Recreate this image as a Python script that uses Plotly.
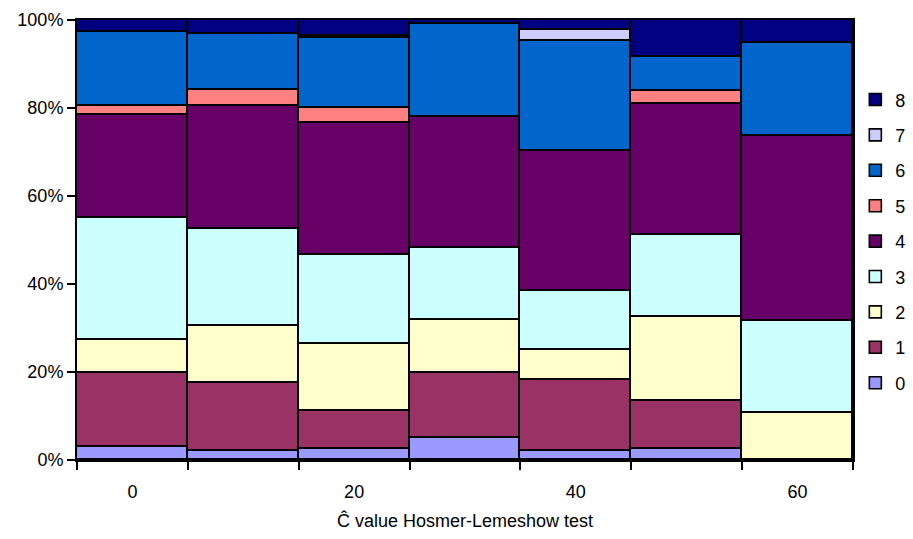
import plotly.graph_objects as go

# Ĉ value groups (bar centres) and share of each category per group, in %
c_values = [0, 10, 20, 30, 40, 50, 60]
categories = ["0", "1", "2", "3", "4", "5", "6", "7", "8"]

share_0 = [3.0, 2.1, 2.5, 5.1, 2.1, 2.5, 0.0]
share_1 = [16.8, 15.3, 8.6, 14.7, 16.1, 11.0, 0.0]
share_2 = [7.4, 13.1, 15.2, 12.0, 6.8, 19.1, 10.6]
share_3 = [27.9, 22.0, 20.3, 16.4, 13.5, 18.6, 21.1]
share_4 = [23.2, 28.0, 30.1, 29.7, 31.8, 29.6, 42.0]
share_5 = [2.1, 3.7, 3.3, 0.0, 0.0, 3.1, 0.0]
share_6 = [16.9, 12.6, 16.0, 21.1, 24.9, 7.8, 21.1]
share_7 = [0.0, 0.0, 0.4, 0.0, 2.5, 0.0, 0.0]
share_8 = [2.7, 3.2, 3.6, 1.0, 2.3, 8.3, 5.2]

shares = [share_0, share_1, share_2, share_3, share_4,
          share_5, share_6, share_7, share_8]
colors = ["#9999FF", "#993366", "#FFFFCC", "#CCFFFF", "#660066",
          "#FF8080", "#0066CC", "#CCCCFF", "#000080"]

x_ticks = [0, 20, 40, 60]
y_ticks = [0, 20, 40, 60, 80, 100]

font_family = "Liberation Sans, Arial, sans-serif"

fig = go.Figure()
n = len(categories)
for i, (name, vals, col) in enumerate(zip(categories, shares, colors)):
    fig.add_trace(go.Bar(
        x=c_values, y=vals, name=name, legendgroup=name,
        legendrank=n - i,  # highest category listed first
        marker=dict(color=col, line=dict(color="black", width=1.6)),
        width=10,
    ))

fig.update_layout(
    barmode="stack",
    bargap=0,
    width=913, height=539,
    margin=dict(l=77, r=60, t=20, b=79, autoexpand=False),
    plot_bgcolor="white",
    paper_bgcolor="white",
    font=dict(family=font_family, size=18, color="black"),
    showlegend=True,
    legend=dict(
        traceorder="grouped",
        x=1.003, xanchor="left",
        y=0.497, yanchor="middle",
        font=dict(size=18),
        tracegroupgap=9,
        bgcolor="rgba(0,0,0,0)",
    ),
)

fig.update_xaxes(
    range=[-5, 65],
    tickvals=x_ticks,
    ticktext=[str(v) for v in x_ticks],
    ticks="",
    ticklabelstandoff=14,
    minor=dict(tick0=-5, dtick=10, ticks="outside", ticklen=8,
               tickwidth=1.5, tickcolor="black"),
    showgrid=False,
    showline=True, linecolor="black", linewidth=2, mirror=True,
    title=dict(text="Ĉ value Hosmer-Lemeshow test", standoff=14,
               font=dict(size=18)),
    tickfont=dict(size=18),
    zeroline=False,
)

fig.update_yaxes(
    range=[0, 100],
    tickvals=y_ticks,
    ticktext=[f"{v}%" for v in y_ticks],
    ticks="outside", ticklen=8, tickwidth=1.5, tickcolor="black",
    showgrid=False,
    showline=True, linecolor="black", linewidth=2, mirror=True,
    tickfont=dict(size=18),
    zeroline=False,
)

fig.write_html("out.html")
